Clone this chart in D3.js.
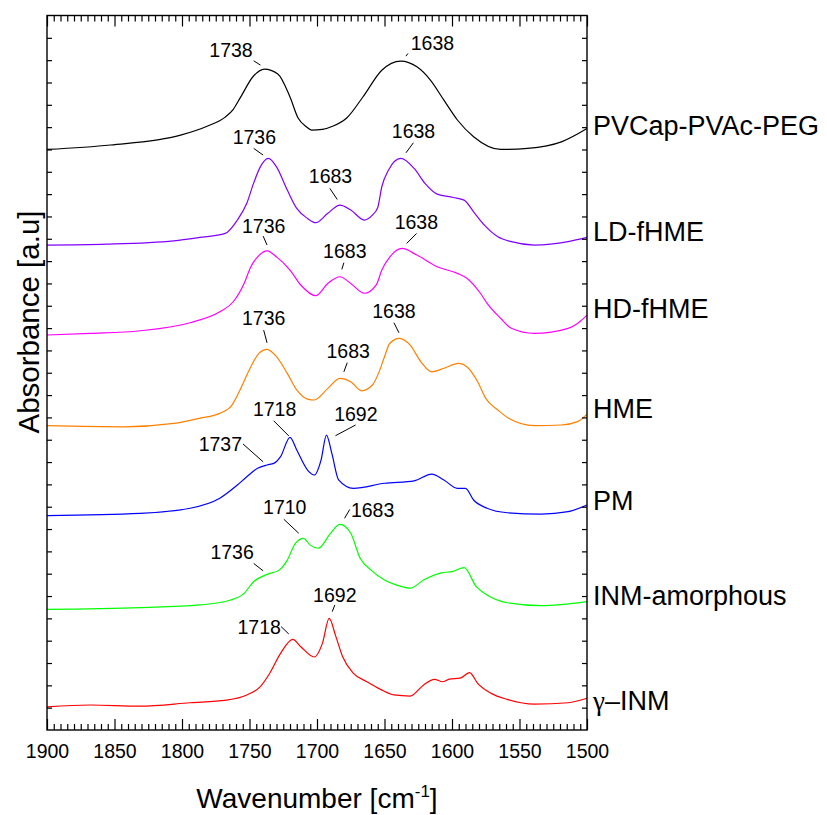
<!DOCTYPE html>
<html>
<head>
<meta charset="utf-8">
<script src="https://cdn.jsdelivr.net/npm/d3@7"></script>
<style>
  body { margin: 0; background: #fff; }
  text { font-family: "Liberation Sans", Arial, sans-serif; fill: #000; }
</style>
</head>
<body>
<div id="wrapper"></div>
<script>
// spectra: [wavenumber, absorbance (offset, a.u.)]
const pvcap = [[1900,26.00],[1853,26.20],[1801,26.64],[1781,27.05],[1768,27.45],[1762,27.80],[1757,28.30],[1747,29.29],[1739,29.60],[1729,29.38],[1720,28.35],[1714,27.41],[1708,27.02],[1704,26.87],[1696,26.90],[1688,27.05],[1678,27.41],[1666,28.35],[1652,29.55],[1638,29.96],[1626,29.70],[1616,29.11],[1606,28.21],[1596,27.32],[1584,26.57],[1564,26.00],[1544,26.05],[1519,26.34],[1500,26.94]];
const ldfhme = [[1900,21.72],[1856,21.76],[1806,21.91],[1787,22.06],[1768,22.24],[1759,22.84],[1752,23.59],[1747,24.48],[1742,25.22],[1736,25.60],[1730,25.22],[1722,24.18],[1715,23.36],[1707,22.91],[1701,22.72],[1692,23.14],[1683,23.51],[1675,23.29],[1665,22.84],[1659,23.06],[1655,23.40],[1652,24.33],[1647,25.08],[1638,25.60],[1628,25.15],[1620,24.48],[1611,24.00],[1599,23.85],[1591,23.73],[1584,23.21],[1576,22.61],[1566,22.09],[1556,21.87],[1539,21.72],[1514,21.87],[1500,22.06]];
const hdfhme = [[1900,17.69],[1868,17.76],[1831,17.88],[1794,18.24],[1772,18.73],[1762,19.18],[1754,20.00],[1749,20.75],[1744,21.19],[1737,21.46],[1730,21.19],[1720,20.60],[1712,19.93],[1701,19.45],[1692,20.00],[1683,20.30],[1675,20.00],[1665,19.56],[1656,19.95],[1652,20.60],[1646,21.19],[1637,21.57],[1626,21.27],[1611,20.75],[1596,20.45],[1589,20.23],[1579,19.56],[1574,19.11],[1564,18.44],[1556,17.99],[1539,17.76],[1514,17.99],[1507,18.21],[1500,18.58]];
const hme = [[1900,13.63],[1843,13.58],[1806,13.73],[1787,13.96],[1772,14.18],[1763,14.55],[1757,15.23],[1749,16.27],[1743,16.87],[1737,17.05],[1730,16.72],[1722,15.97],[1715,15.23],[1707,14.82],[1702,14.78],[1692,15.30],[1683,15.75],[1675,15.60],[1667,15.19],[1659,15.45],[1654,16.04],[1650,16.72],[1646,17.32],[1639,17.54],[1631,17.24],[1623,16.49],[1615,16.04],[1606,16.20],[1595,16.42],[1589,16.27],[1581,15.60],[1575,14.85],[1566,14.33],[1558,13.96],[1539,13.63],[1519,13.66],[1507,13.81],[1500,14.15]];
const pm = [[1900,9.60],[1831,9.70],[1794,9.93],[1772,10.38],[1759,10.97],[1752,11.34],[1744,11.72],[1737,11.87],[1732,11.94],[1727,12.24],[1720,13.11],[1715,12.54],[1707,11.64],[1702,11.42],[1697,12.09],[1693,13.21],[1689,12.39],[1684,11.20],[1673,10.82],[1650,11.05],[1628,11.16],[1615,11.46],[1606,11.20],[1596,10.82],[1590,10.82],[1584,10.30],[1574,9.93],[1559,9.73],[1534,9.67],[1514,9.78],[1500,10.08]];
const inmAmorph = [[1900,5.40],[1831,5.48],[1787,5.60],[1764,5.82],[1754,6.12],[1747,6.64],[1737,6.97],[1728,7.16],[1722,7.61],[1716,8.36],[1710,8.58],[1705,8.28],[1699,8.14],[1690,8.81],[1683,9.21],[1675,8.81],[1668,7.69],[1660,7.16],[1650,6.72],[1641,6.49],[1631,6.35],[1621,6.72],[1608,7.04],[1600,7.09],[1591,7.27],[1582,6.42],[1574,6.05],[1559,5.70],[1534,5.57],[1500,5.75]];
const gammaInm = [[1900,1.04],[1868,1.12],[1831,1.07],[1794,1.22],[1767,1.34],[1752,1.57],[1742,1.94],[1735,2.54],[1727,3.43],[1718,4.06],[1712,3.73],[1702,3.27],[1696,3.88],[1691,5.00],[1686,4.18],[1681,3.28],[1673,2.54],[1663,2.16],[1653,1.82],[1643,1.57],[1631,1.52],[1621,2.02],[1613,2.27],[1607,2.16],[1602,2.28],[1594,2.32],[1587,2.57],[1581,2.09],[1571,1.64],[1559,1.37],[1539,1.16],[1514,1.22],[1500,1.42]];

const seriesData = [pvcap, ldfhme, hdfhme, hme, pm, inmAmorph, gammaInm];
const seriesNames = ["PVCap-PVAc-PEG", "LD-fHME", "HD-fHME", "HME", "PM", "INM-amorphous", "\u03b3\u2013INM"];
const seriesColors = ["#000000", "#8000ff", "#ff00ff", "#ff8000", "#0000ff", "#00ff00", "#ff0000"];
// baseline level of the name written right of the frame
const nameLevels = [26.64, 21.91, 18.44, 13.96, 9.85, 5.60, 0.90];

const xTicks = [1900, 1850, 1800, 1750, 1700, 1650, 1600, 1550, 1500];

// peak labels: text, text position [w, a], leader from [w, a] to [w, a]
const peakLabels = [
  ["1738", [1763.7, 30.16], [1746.9, 29.97], [1741.9, 29.78]],
  ["1638", [1614.5, 30.45], [1632.6, 30.30], [1634.1, 30.18]],
  ["1736", [1746.4, 26.24], [1746.9, 26.05], [1739.9, 25.75]],
  ["1683", [1690.0, 24.48], [1690.5, 24.26], [1685.0, 23.76]],
  ["1638", [1628.5, 26.50], [1628.6, 26.30], [1634.1, 25.85]],
  ["1736", [1739.5, 22.27], [1739.9, 22.12], [1737.0, 21.72]],
  ["1683", [1679.4, 21.15], [1680.1, 20.93], [1681.6, 20.63]],
  ["1638", [1626.4, 22.42], [1626.2, 22.24], [1633.6, 21.79]],
  ["1736", [1739.5, 18.14], [1739.5, 17.91], [1737.0, 17.34]],
  ["1683", [1676.9, 16.64], [1677.6, 16.45], [1680.1, 16.04]],
  ["1638", [1643.0, 18.44], [1643.0, 18.24], [1639.3, 17.79]],
  ["1737", [1771.6, 12.51], [1754.8, 12.81], [1739.9, 12.01]],
  ["1718", [1731.4, 14.06], [1732.1, 13.85], [1720.9, 13.17]],
  ["1692", [1671.2, 13.85], [1671.4, 13.66], [1686.3, 13.18]],
  ["1736", [1762.9, 7.64], [1746.9, 7.46], [1739.9, 7.13]],
  ["1710", [1723.9, 9.67], [1724.6, 9.44], [1713.5, 8.81]],
  ["1683", [1658.8, 9.55], [1675.7, 9.88], [1679.6, 9.48]],
  ["1718", [1742.8, 4.30], [1726.6, 4.63], [1720.9, 4.30]],
  ["1692", [1686.8, 5.75], [1686.8, 5.60], [1688.7, 5.30]]
];

function drawChart() {
  let dimensions = {
    width: 827,
    height: 815,
    margin: { top: 15.5, right: 240, bottom: 85, left: 47 }
  };
  dimensions.boundedWidth = dimensions.width - dimensions.margin.left - dimensions.margin.right;
  dimensions.boundedHeight = dimensions.height - dimensions.margin.top - dimensions.margin.bottom;

  const wrapper = d3.select("#wrapper")
    .append("svg")
    .attr("width", dimensions.width)
    .attr("height", dimensions.height);

  const bounds = wrapper.append("g")
    .attr("transform", `translate(${dimensions.margin.left},${dimensions.margin.top})`);

  const xScale = d3.scaleLinear()
    .domain([1900, 1500])
    .range([0, dimensions.boundedWidth]);

  const yScale = d3.scaleLinear()
    .domain([0, 32])
    .range([dimensions.boundedHeight, 0]);

  // curves
  const lineGen = d3.line()
    .x(d => xScale(d[0]))
    .y(d => yScale(d[1]))
    .curve(d3.curveMonotoneX);

  bounds.selectAll(".spectrum")
    .data(seriesData)
    .join("path")
    .attr("class", "spectrum")
    .attr("fill", "none")
    .attr("stroke", (d, i) => seriesColors[i])
    .attr("stroke-width", 1.2)
    .attr("d", lineGen);

  // axes (ticks pointing inward)
  const minorTicks = d3.range(1900, 1499, -5).filter(v => v % 50 !== 0);
  const yTicks = d3.range(1, 32);

  const bottomMajor = bounds.append("g")
    .attr("transform", `translate(0,${dimensions.boundedHeight})`)
    .call(d3.axisBottom(xScale).tickValues(xTicks).tickSize(-11).tickPadding(14).tickFormat(d3.format("d")));
  bounds.append("g")
    .attr("transform", `translate(0,${dimensions.boundedHeight})`)
    .call(d3.axisBottom(xScale).tickValues(minorTicks).tickSize(-6).tickFormat(""));
  bounds.append("g")
    .call(d3.axisTop(xScale).tickValues(xTicks).tickSize(-11).tickFormat(""));
  bounds.append("g")
    .call(d3.axisTop(xScale).tickValues(minorTicks).tickSize(-6).tickFormat(""));
  bounds.append("g")
    .call(d3.axisLeft(yScale).tickValues(yTicks).tickSize(-5).tickFormat(""));
  bounds.append("g")
    .attr("transform", `translate(${dimensions.boundedWidth},0)`)
    .call(d3.axisRight(yScale).tickValues(yTicks).tickSize(-5).tickFormat(""));

  bounds.selectAll(".domain").remove();
  bounds.selectAll(".tick line").attr("stroke", "#000").attr("stroke-width", 1.2);
  bottomMajor.selectAll("text")
    .attr("font-size", 19.5)
    .attr("fill", "#000");

  bounds.append("rect")
    .attr("width", dimensions.boundedWidth)
    .attr("height", dimensions.boundedHeight)
    .attr("fill", "none")
    .attr("stroke", "#000")
    .attr("stroke-width", 1.4);

  // peak annotations
  bounds.selectAll(".leader")
    .data(peakLabels)
    .join("line")
    .attr("class", "leader")
    .attr("x1", d => xScale(d[2][0]))
    .attr("y1", d => yScale(d[2][1]))
    .attr("x2", d => xScale(d[3][0]))
    .attr("y2", d => yScale(d[3][1]))
    .attr("stroke", "#000")
    .attr("stroke-width", 1);

  bounds.selectAll(".peak-label")
    .data(peakLabels)
    .join("text")
    .attr("class", "peak-label")
    .attr("x", d => xScale(d[1][0]))
    .attr("y", d => yScale(d[1][1]))
    .attr("text-anchor", "middle")
    .attr("font-size", 19.5)
    .text(d => d[0]);

  // series names
  const names = bounds.selectAll(".series-name")
    .data(seriesNames)
    .join("text")
    .attr("class", "series-name")
    .attr("x", dimensions.boundedWidth + 6)
    .attr("y", (d, i) => yScale(nameLevels[i]))
    .attr("font-size", 27);
  names.each(function(d) {
    const t = d3.select(this);
    if (d.startsWith("\u03b3")) {
      t.append("tspan").style("font-family", "'Liberation Serif', 'DejaVu Serif', serif").text("\u03b3");
      t.append("tspan").text(d.slice(1));
    } else {
      t.text(d);
    }
  });

  // axis titles
  const xTitle = wrapper.append("text")
    .attr("x", dimensions.margin.left + dimensions.boundedWidth / 2)
    .attr("y", 808)
    .attr("text-anchor", "middle")
    .attr("font-size", 28);
  xTitle.append("tspan").text("Wavenumber [cm");
  xTitle.append("tspan").attr("font-size", 17).attr("dy", -11).text("-1");
  xTitle.append("tspan").attr("dy", 11).text("]");

  wrapper.append("text")
    .attr("transform", "translate(39,322) rotate(-90)")
    .attr("text-anchor", "middle")
    .attr("font-size", 29.5)
    .text("Absorbance [a.u]");
}

drawChart();
</script>
</body>
</html>
